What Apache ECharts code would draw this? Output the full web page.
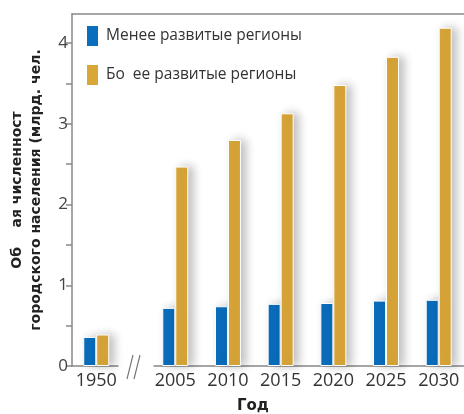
<!DOCTYPE html>
<html>
<head>
<meta charset="utf-8">
<script src="https://cdn.jsdelivr.net/npm/echarts@6/dist/echarts.min.js"></script>
<style>
  html, body { margin: 0; padding: 0; background: #fff; }
  #chart { width: 464px; height: 414px; }
</style>
</head>
<body>
<div id="chart"></div>
<script>
// годы и значения (млрд. чел.)
const years = [1950, 2005, 2010, 2015, 2020, 2025, 2030]
const lessDeveloped = [0.36, 0.72, 0.74, 0.77, 0.78, 0.81, 0.82]
const moreDeveloped = [0.39, 2.47, 2.80, 3.13, 3.48, 3.83, 4.19]
const seriesNames = ['Менее развитые регионы', 'Бо  ее развитые регионы']
const yLabels = [0, 1, 2, 3, 4]
const yTicks = [0, 0.5, 1, 1.5, 2, 2.5, 3, 3.5, 4]

const chart = echarts.init(document.getElementById('chart'))

const barStyle = function (color) {
  return {
    color: color,
    borderColor: '#fff',
    borderWidth: 1,
    shadowBlur: 10,
    shadowColor: 'rgba(0,0,0,0.25)',
    shadowOffsetX: 5
  }
}

const option = {
  backgroundColor: '#fff',
  animation: false,
  textStyle: { fontFamily: 'Open Sans' },
  title: {
    text: 'Год',
    left: 232,
    top: 394,
    textStyle: { fontFamily: 'DejaVu Sans', fontWeight: 'bold', fontSize: 15, color: '#222' }
  },
  legend: {
    orient: 'vertical',
    left: 80,
    top: 19,
    itemWidth: 13,
    itemHeight: 22,
    itemGap: 15,
    icon: 'rect',
    textStyle: { fontSize: 15.5, color: '#333', padding: [0, 0, 0, 2] },
    data: seriesNames
  },
  grid: { left: 70, right: 0, top: 14, bottom: 48 },
  xAxis: [
    {
      type: 'value',
      min: 1947.7,
      max: 2032.4,
      breaks: [{ start: 1952, end: 2003, gap: 3.5 }],
      breakArea: { show: false },
      axisLine: { lineStyle: { color: '#888', width: 1.5 } },
      axisTick: { show: false },
      splitLine: { show: false },
      axisLabel: {
        customValues: years,
        fontSize: 18,
        color: '#333',
        margin: 6,
        formatter: function (v) { return String(v) }
      }
    },
    {
      type: 'value',
      position: 'top',
      min: 0,
      max: 1,
      axisLine: { show: true, lineStyle: { color: '#888', width: 1.5 } },
      axisTick: { show: false },
      axisLabel: { show: false },
      splitLine: { show: false }
    }
  ],
  yAxis: {
    type: 'value',
    min: 0,
    max: 4.36,
    name: 'Об    ая численност\nгородского населения (млрд. чел.',
    nameLocation: 'middle',
    nameRotate: 90,
    nameGap: 26,
    nameTextStyle: { fontFamily: 'DejaVu Sans', fontWeight: 'bold', fontSize: 14, color: '#222', lineHeight: 19 },
    axisLine: { show: true, lineStyle: { color: '#888', width: 1.5 } },
    axisTick: { show: true, customValues: yTicks, length: 6, lineStyle: { color: '#888', width: 1.5 } },
    axisLabel: { customValues: yLabels, fontSize: 17, color: '#444', margin: 4 },
    splitLine: { show: false }
  },
  series: [
    {
      name: seriesNames[0],
      type: 'bar',
      barWidth: 13,
      barGap: '0%',
      itemStyle: barStyle('#0a6ebd'),
      data: years.map(function (y, i) { return [y, lessDeveloped[i]] })
    },
    {
      name: seriesNames[1],
      type: 'bar',
      barWidth: 13,
      barGap: '0%',
      itemStyle: barStyle('#d9a638'),
      data: years.map(function (y, i) { return [y, moreDeveloped[i]] })
    }
  ],
  graphic: [
    { type: 'rect', shape: { x: 126, y: 362, width: 16, height: 8 }, style: { fill: '#fff' } },
    { type: 'line', shape: { x1: 127, y1: 379, x2: 133, y2: 355 }, style: { stroke: '#777', lineWidth: 1.2 } },
    { type: 'line', shape: { x1: 134, y1: 379, x2: 140, y2: 355 }, style: { stroke: '#777', lineWidth: 1.2 } }
  ]
}

chart.setOption(option)
</script>
</body>
</html>
